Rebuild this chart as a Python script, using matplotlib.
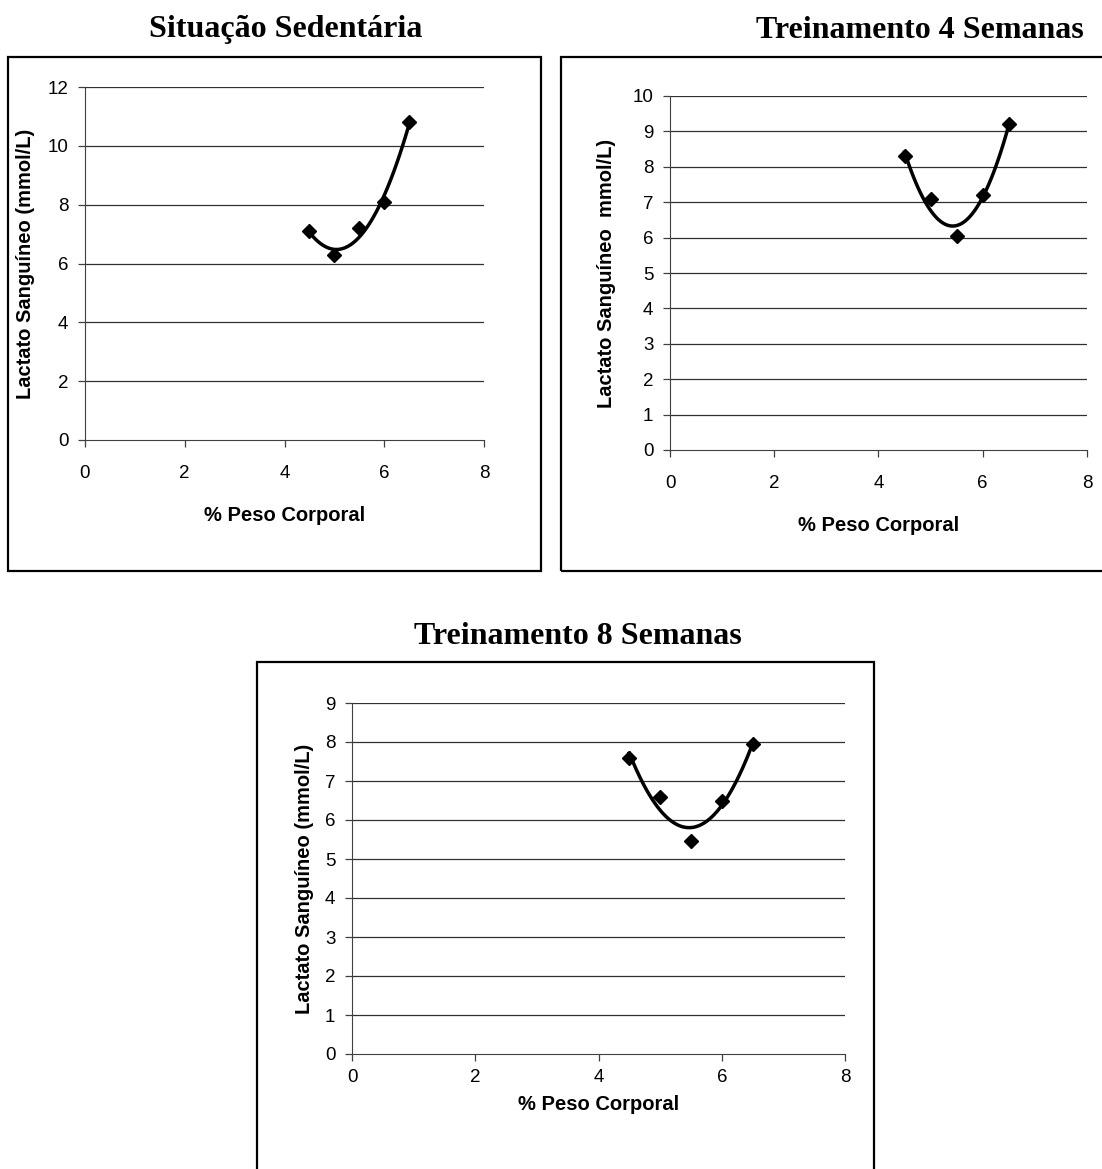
import matplotlib
matplotlib.use('Agg')
import matplotlib.pyplot as plt
from matplotlib.patches import Rectangle
import numpy as np

# Dados (% peso corporal x lactato sanguíneo)
peso = [4.5, 5.0, 5.5, 6.0, 6.5]
lactato_sedentario = [7.1, 6.3, 7.2, 8.1, 10.8]
lactato_4sem = [8.3, 7.1, 6.05, 7.2, 9.2]
lactato_8sem = [7.6, 6.6, 5.45, 6.5, 7.95]

titulos = ['Situação Sedentária', 'Treinamento 4 Semanas', 'Treinamento 8 Semanas']
ylabels = ['Lactato Sanguíneo (mmol/L)', 'Lactato Sanguíneo  mmol/L)', 'Lactato Sanguíneo (mmol/L)']
xlabel = '% Peso Corporal'
xticks = [0, 2, 4, 6, 8]
yticks_list = [[0, 2, 4, 6, 8, 10, 12], list(range(0, 11)), list(range(0, 10))]

W, H = 1102, 1169
fig = plt.figure(figsize=(W / 100, H / 100), dpi=100)

def fx(px):
    return px / W

def fy(py):
    return 1 - py / H

# caixa externa de cada gráfico (em pixels: x0, y0, x1, y1)
caixas = [(8, 57, 541, 571), (561, 57, 1110, 571), (257, 662, 874, 1180)]
# area de plotagem (x0, y0_topo, x1, y1_base)
areas = [(85, 87, 484, 440), (670, 96, 1087, 450), (352, 703, 845, 1054)]
pos_titulos = [(286, 30), (920, 30), (578, 637)]
# (tamanho ticks, tamanho rotulos, pad ticks x, pad rotulo x, pad rotulo y)
fontes = [(13.5, 14.5, 13, 17, 9), (13.5, 14.5, 13, 17, 12), (13.5, 14.5, 6, 6, 8)]

series = [lactato_sedentario, lactato_4sem, lactato_8sem]

for i in range(3):
    x0, y0, x1, y1 = caixas[i]
    fig.patches.append(Rectangle((fx(x0), fy(y1)), fx(x1 - x0), (y1 - y0) / H,
                                 transform=fig.transFigure, fill=False,
                                 edgecolor='black', linewidth=1.6))
    tx, ty = pos_titulos[i]
    fig.text(fx(tx), fy(ty), titulos[i], ha='center', va='center',
             fontsize=23, fontweight='bold', family='Liberation Serif')

    a0, at, a1, ab = areas[i]
    ax = fig.add_axes([fx(a0), fy(ab), fx(a1 - a0), (ab - at) / H])
    yt = yticks_list[i]
    tick_fs, lab_fs, xtpad, xpad, ypad = fontes[i]

    # linhas de grade
    for v in yt[1:]:
        ax.axhline(v, color='#303030', linewidth=0.9, zorder=1)

    # linha de tendencia polinomial (ordem 2)
    coef = np.polyfit(peso, series[i], 2)
    xs = np.linspace(min(peso), max(peso), 100)
    ax.plot(xs, np.polyval(coef, xs), color='black', linewidth=2.5, zorder=2)
    ax.plot(peso, series[i], linestyle='none', marker='D', markersize=7.5,
            color='black', zorder=3)

    ax.set_xlim(0, 8)
    ax.set_ylim(yt[0], yt[-1])
    ax.set_xticks(xticks)
    ax.set_yticks(yt)
    ax.spines['top'].set_visible(False)
    ax.spines['right'].set_visible(False)
    ax.spines['left'].set_color('#404040')
    ax.spines['bottom'].set_color('#404040')
    ax.tick_params(direction='out', length=5, width=0.9, color='#404040',
                   labelsize=tick_fs, pad=7)
    ax.tick_params(axis='x', pad=xtpad)
    for lab in ax.get_xticklabels() + ax.get_yticklabels():
        lab.set_family('Liberation Sans')
    ax.set_xlabel(xlabel, fontsize=lab_fs, fontweight='bold',
                  family='Liberation Sans', labelpad=xpad)
    ax.set_ylabel(ylabels[i], fontsize=lab_fs, fontweight='bold',
                  family='Liberation Sans', labelpad=ypad)
    ax.patch.set_alpha(0)

fig.savefig('out.png', dpi=100, facecolor='white')
